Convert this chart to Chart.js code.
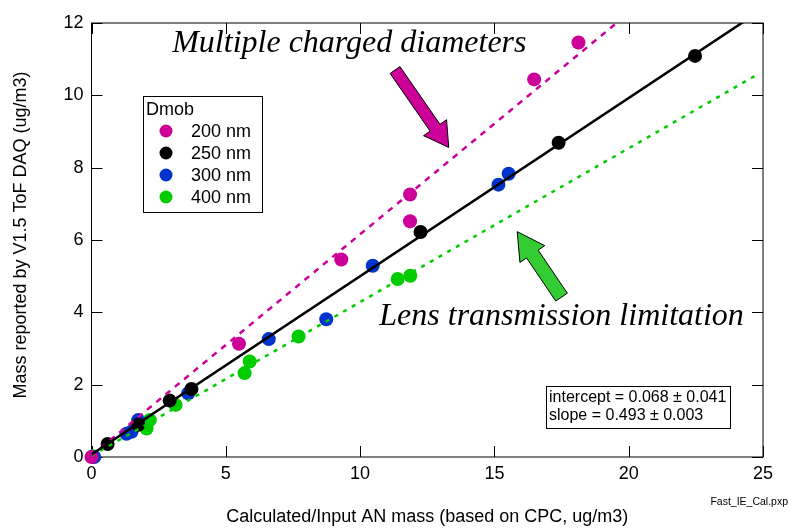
<!DOCTYPE html>
<html>
<head>
<meta charset="utf-8">
<script src="https://cdn.jsdelivr.net/npm/chart.js@4.4.0/dist/chart.umd.min.js"></script>
<style>
  html, body { margin: 0; padding: 0; background: #fff; }
  #wrap { width: 789px; height: 529px; }
</style>
</head>
<body>
<div id="wrap"><canvas id="chart" width="789" height="529"></canvas></div>
<script>
// Dmob series
const seriesNames = ['200 nm', '250 nm', '300 nm', '400 nm'];
const seriesColors = ['#cc0099', '#000000', '#0033cc', '#00cc00'];

const x200 = [0.0, 5.49, 9.30, 11.86, 11.86, 16.48, 18.13];
const y200 = [0.0, 3.13, 5.46, 6.52, 7.26, 10.44, 11.46];

const x250 = [0.6, 1.74, 2.91, 3.72, 12.25, 17.39, 22.47];
const y250 = [0.36, 0.89, 1.56, 1.88, 6.22, 8.69, 11.09];

const x300 = [0.1, 1.3, 1.49, 1.74, 3.6, 6.6, 8.74, 10.47, 15.15, 15.53];
const y300 = [0.0, 0.64, 0.70, 1.02, 1.76, 3.26, 3.81, 5.29, 7.53, 7.83];

const x400 = [0.05, 2.05, 2.17, 3.13, 5.70, 5.89, 7.71, 11.40, 11.87];
const y400 = [0.02, 0.79, 1.02, 1.44, 2.32, 2.64, 3.33, 4.92, 5.01];

// fit lines (end points)
const fitX = [0, 25];
const fitY = [0.068, 12.39];
const trend200X = [0, 19.55];
const trend200Y = [0.04, 12.0];
const trend400X = [0, 24.85];
const trend400Y = [0.03, 10.6];

const statsText = ['intercept = 0.068 \u00b1 0.041', 'slope = 0.493 \u00b1 0.003'];

function pts(xs, ys) {
    return xs.map((x, i) => ({ x: x, y: ys[i] }));
}

const sans = "'Liberation Sans', Arial, sans-serif";
const serif = "'Liberation Serif', 'Times New Roman', serif";

// arrow helper
function drawArrow(ctx, x0, y0, x1, y1, shaftHalf, headHalf, headLen, fill) {
    const dx = x1 - x0, dy = y1 - y0;
    const len = Math.sqrt(dx * dx + dy * dy);
    const ux = dx / len, uy = dy / len;
    const nx = -uy, ny = ux;
    const bx = x1 - ux * headLen, by = y1 - uy * headLen;
    ctx.beginPath();
    ctx.moveTo(x0 + nx * shaftHalf, y0 + ny * shaftHalf);
    ctx.lineTo(bx + nx * shaftHalf, by + ny * shaftHalf);
    ctx.lineTo(bx + nx * headHalf, by + ny * headHalf);
    ctx.lineTo(x1, y1);
    ctx.lineTo(bx - nx * headHalf, by - ny * headHalf);
    ctx.lineTo(bx - nx * shaftHalf, by - ny * shaftHalf);
    ctx.lineTo(x0 - nx * shaftHalf, y0 - ny * shaftHalf);
    ctx.closePath();
    ctx.fillStyle = fill;
    ctx.fill();
    ctx.strokeStyle = '#000';
    ctx.lineWidth = 1;
    ctx.stroke();
}

// frame with inward ticks on all four sides
const framePlugin = {
    id: 'frame',
    beforeDatasetsDraw(chart) {
        const ctx = chart.ctx;
        const { left, right, top, bottom } = chart.chartArea;
        const xs = chart.scales.x, ys = chart.scales.y;
        ctx.save();
        ctx.strokeStyle = '#000';
        ctx.lineWidth = 1;
        ctx.strokeRect(left, top, right - left, bottom - top);
        const t = 11;
        ctx.beginPath();
        xs.ticks.forEach(tk => {
            const px = Math.round(xs.getPixelForValue(tk.value)) + 0.5;
            ctx.moveTo(px, bottom); ctx.lineTo(px, bottom - t);
            ctx.moveTo(px, top); ctx.lineTo(px, top + t);
        });
        ys.ticks.forEach(tk => {
            const py = Math.round(ys.getPixelForValue(tk.value)) + 0.5;
            ctx.moveTo(left, py); ctx.lineTo(left + t, py);
            ctx.moveTo(right, py); ctx.lineTo(right - t, py);
        });
        ctx.stroke();
        ctx.restore();
    },
    afterDraw(chart) {
        const ctx = chart.ctx;
        const xs = chart.scales.x, ys = chart.scales.y;
        const { left, right } = chart.chartArea;
        ctx.save();

        // axis titles
        ctx.fillStyle = '#000';
        ctx.font = '18px ' + sans;
        ctx.textAlign = 'center';
        ctx.textBaseline = 'middle';
        ctx.fillText('Calculated/Input AN mass (based on CPC, ug/m3)', (left + right) / 2, 517);
        ctx.save();
        ctx.translate(21, 235);
        ctx.rotate(-Math.PI / 2);
        ctx.fillText('Mass reported by V1.5 ToF DAQ (ug/m3)', 0, 0);
        ctx.restore();

        ctx.font = '10.5px ' + sans;
        ctx.textAlign = 'right';
        ctx.textBaseline = 'alphabetic';
        ctx.fillText('Fast_IE_Cal.pxp', 788, 505);

        // legend
        ctx.lineWidth = 1;
        ctx.strokeStyle = '#000';
        ctx.strokeRect(143.5, 96.5, 119, 116);
        ctx.font = '18px ' + sans;
        ctx.textAlign = 'left';
        ctx.textBaseline = 'middle';
        ctx.fillText('Dmob', 146, 110);
        seriesNames.forEach((name, i) => {
            const cy = 131 + i * 22;
            ctx.beginPath();
            ctx.arc(166, cy, 6.5, 0, Math.PI * 2);
            ctx.fillStyle = seriesColors[i];
            ctx.fill();
            ctx.fillStyle = '#000';
            ctx.fillText(name, 191, cy + 1);
        });

        // fit stats box
        ctx.fillStyle = '#fff';
        ctx.fillRect(546, 386, 184, 42);
        ctx.strokeRect(546.5, 386.5, 184, 42);
        ctx.fillStyle = '#000';
        ctx.font = '16px ' + sans;
        ctx.fillText(statsText[0], 549, 398);
        ctx.fillText(statsText[1], 549, 416);

        // annotations
        ctx.font = 'italic 32px ' + serif;
        ctx.textAlign = 'center';
        ctx.textBaseline = 'alphabetic';
        ctx.fillText('Multiple charged diameters', xs.getPixelForValue(9.6), ys.getPixelForValue(11.2));
        ctx.fillText('Lens transmission limitation', xs.getPixelForValue(17.5), ys.getPixelForValue(3.66));

        drawArrow(ctx, xs.getPixelForValue(11.3), ys.getPixelForValue(10.7),
            xs.getPixelForValue(13.3), ys.getPixelForValue(8.56), 6, 14, 24, '#cc0099');
        drawArrow(ctx, xs.getPixelForValue(17.5), ys.getPixelForValue(4.42),
            xs.getPixelForValue(15.85), ys.getPixelForValue(6.23), 7, 15, 27, '#33cc33');

        ctx.restore();
    }
};

const scatterSets = [
    { x: x200, y: y200 },
    { x: x250, y: y250 },
    { x: x300, y: y300 },
    { x: x400, y: y400 }
];

const datasets = scatterSets.map((s, i) => ({
    type: 'scatter',
    label: seriesNames[i],
    data: pts(s.x, s.y),
    backgroundColor: seriesColors[i],
    borderWidth: 0,
    pointRadius: 7,
    pointHoverRadius: 7,
    clip: false,
    order: [2, 3, 4, 5][i]
}));

datasets.push({
    type: 'line',
    label: 'fit 200',
    data: pts(trend200X, trend200Y),
    borderColor: '#cc0099',
    borderWidth: 2.5,
    borderDash: [6, 6],
    pointRadius: 0,
    fill: false,
    order: 1
});
datasets.push({
    type: 'line',
    label: 'fit 400',
    data: pts(trend400X, trend400Y),
    borderColor: '#00cc00',
    borderWidth: 2.5,
    borderDash: [4, 6],
    pointRadius: 0,
    fill: false,
    order: 1
});
datasets.push({
    type: 'line',
    label: 'fit',
    data: pts(fitX, fitY),
    borderColor: '#000000',
    borderWidth: 2.5,
    pointRadius: 0,
    fill: false,
    order: 0
});

new Chart(document.getElementById('chart'), {
    data: { datasets: datasets },
    options: {
        responsive: false,
        animation: false,
        layout: { padding: { left: 0, top: 23, right: 26, bottom: 0 } },
        plugins: {
            legend: { display: false },
            tooltip: { enabled: false }
        },
        scales: {
            x: {
                type: 'linear',
                min: 0,
                max: 25,
                ticks: {
                    stepSize: 5,
                    color: '#000',
                    padding: 6,
                    font: { family: sans, size: 18 }
                },
                grid: { display: false, drawTicks: false },
                border: { display: false },
                afterFit(scale) { scale.height = 72; }
            },
            y: {
                type: 'linear',
                min: 0,
                max: 12,
                ticks: {
                    stepSize: 2,
                    color: '#000',
                    padding: 8,
                    font: { family: sans, size: 18 }
                },
                grid: { display: false, drawTicks: false },
                border: { display: false },
                afterFit(scale) { scale.width = 91.5; }
            }
        }
    },
    plugins: [framePlugin]
});
</script>
</body>
</html>
